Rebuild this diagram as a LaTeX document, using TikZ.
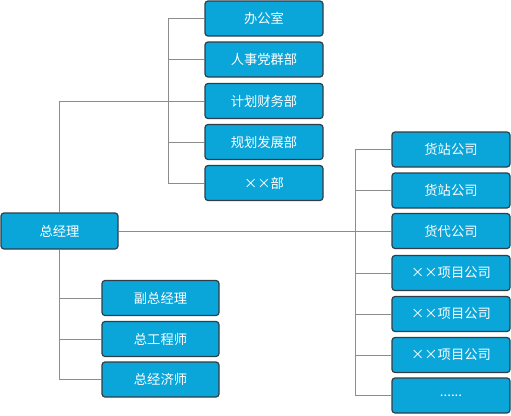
\documentclass[tikz,border=0pt]{standalone}
\usepackage{fontspec}
\setmainfont{Noto Sans CJK SC}
\begin{document}
\begin{tikzpicture}[x=1pt,y=-1pt,
  box/.style={draw=boxline, line width=1.2pt, fill=boxfill, rounded corners=3pt,
    minimum width=118pt, minimum height=35pt, inner sep=0pt, text=white,
    font=\fontsize{13.3pt}{15pt}\selectfont},
  conn/.style={draw=linegray, line width=0.9pt}]
\definecolor{boxfill}{HTML}{0AA5D9}
\definecolor{boxline}{HTML}{2F3E48}
\definecolor{linegray}{HTML}{8C8C8C}
\useasboundingbox[fill=white] (0,0) rectangle (511,415);
% top departments
\node[box] (t1) at (264,18.5) {办公室};
\node[box] (t2) at (264,59.5) {人事党群部};
\node[box] (t3) at (264,101) {计划财务部};
\node[box] (t4) at (264,142) {规划发展部};
\node[box] (t5) at (264,183) {××部};
% general manager
\node[box, minimum width=117pt, minimum height=36pt] (m) at (59.5,231) {总经理};
% right companies
\node[box] (r1) at (451,149.5) {货站公司};
\node[box] (r2) at (451,190.5) {货站公司};
\node[box] (r3) at (451,231) {货代公司};
\node[box] (r4) at (451,273) {××项目公司};
\node[box] (r5) at (451,314) {××项目公司};
\node[box] (r6) at (451,355) {××项目公司};
\node[box] (r7) at (451,395.5) {......};
% bottom deputies
\node[box, minimum width=117pt] (b1) at (160.5,298) {副总经理};
\node[box, minimum width=117pt] (b2) at (160.5,339) {总工程师};
\node[box, minimum width=117pt] (b3) at (160.5,379.5) {总经济师};
% connectors top
\coordinate (tj1) at (168,18.5);
\coordinate (tj5) at (168,183);
\draw[conn] (t1.west) -- (tj1) -- (tj5) -- (t5.west);
\draw[conn] (t2.west) -- (168,59.5);
\draw[conn] (t4.west) -- (168,142);
\draw[conn] (m.north) |- (t3.west);
% connectors right
\coordinate (rj1) at (355,149.5);
\coordinate (rj7) at (355,395.5);
\draw[conn] (r1.west) -- (rj1) -- (rj7) -- (r7.west);
\draw[conn] (m.east) -- (r3.west);
\foreach \n/\y in {r2/190.5,r4/273,r5/314,r6/355}
  \draw[conn] (\n.west) -- (355,\y);
% connectors bottom
\draw[conn] (m.south) |- (b3.west);
\draw[conn] (b1.west) -- (59.5,298);
\draw[conn] (b2.west) -- (59.5,339);
\end{tikzpicture}
\end{document}
